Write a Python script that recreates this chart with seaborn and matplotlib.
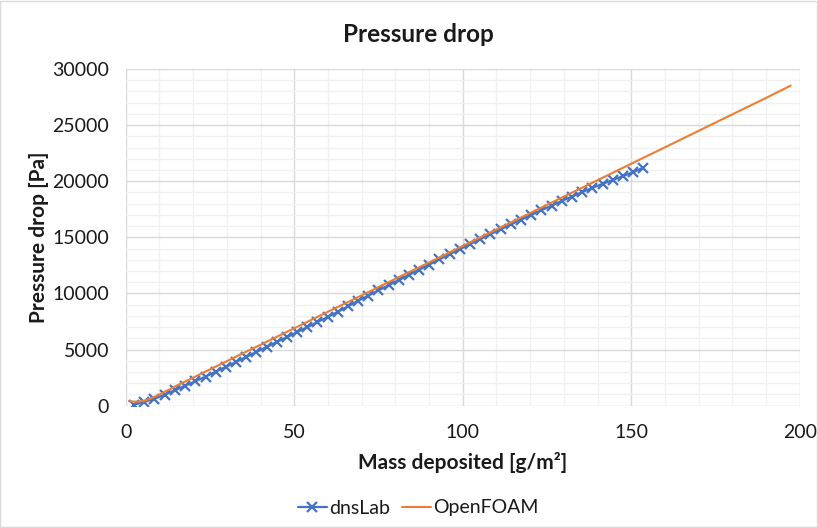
import matplotlib
matplotlib.use("Agg")
import matplotlib.pyplot as plt
from matplotlib.patches import Rectangle
from matplotlib.ticker import MultipleLocator
import seaborn as sns
import pandas as pd

# ---- data ----
dns_x = [2.5, 5.5, 8.5, 11.6, 14.6, 17.6, 20.6, 23.7, 26.7, 29.7,
         32.7, 35.8, 38.8, 41.8, 44.8, 47.8, 50.8, 53.9, 56.9, 59.9,
         62.9, 65.9, 68.9, 72.0, 75.0, 78.0, 81.0, 84.1, 87.1, 90.1,
         93.1, 96.2, 99.2, 102.2, 105.2, 108.2, 111.3, 114.3, 117.3, 120.3,
         123.3, 126.4, 129.4, 132.4, 135.4, 138.5, 141.5, 144.5, 147.5, 150.5,
         153.5]
dns_y = [100, 330, 620, 980, 1380, 1780, 2160, 2600, 3030, 3450,
         3890, 4350, 4790, 5230, 5670, 6100, 6550, 7000, 7450, 7900,
         8360, 8840, 9340, 9810, 10270, 10730, 11190, 11660, 12120, 12580,
         13040, 13510, 13960, 14400, 14840, 15280, 15730, 16160, 16570, 17000,
         17410, 17830, 18240, 18630, 19020, 19410, 19760, 20110, 20450, 20800,
         21200]

of_x = [1, 3, 5, 7, 10, 13, 16, 20, 30, 40, 50, 60, 70, 80, 90, 100,
        110, 120, 130, 140, 150, 160, 170, 180, 190, 197.3]
of_y = [390, 360, 400, 580, 1000, 1450, 1920, 2500, 3970, 5430, 6900, 8370,
        9830, 11300, 12760, 14230, 15700, 17160, 18630, 20090, 21560, 23020,
        24490, 25960, 27420, 28520]

series_names = ["dnsLab", "OpenFOAM"]
title = "Pressure drop"
xlabel = "Mass deposited [g/m\u00b2]"
ylabel = "Pressure drop [Pa]"

BLUE = "#4472C4"
ORANGE = "#ED7D31"
TXT = "#1a1a1a"

sns.set_theme(style="white")
plt.rcParams["font.family"] = ["Lato", "DejaVu Sans"]
plt.rcParams["text.color"] = TXT

fig = plt.figure(figsize=(8.18, 5.28), dpi=100)
ax = fig.add_axes([125.7 / 818, 1 - 405.7 / 528, (799.7 - 125.7) / 818, (405.7 - 69) / 528])

df_dns = pd.DataFrame({"x": dns_x, "y": dns_y})
df_of = pd.DataFrame({"x": of_x, "y": of_y})

sns.lineplot(data=df_dns, x="x", y="y", ax=ax, color=BLUE, lw=1.6,
             marker="x", markersize=6.5, markeredgewidth=1.6,
             markeredgecolor=BLUE, label=series_names[0], zorder=3)
sns.lineplot(data=df_of, x="x", y="y", ax=ax, color=ORANGE, lw=1.5,
             label=series_names[1], zorder=4)

ax.set_xlim(0, 200)
ax.set_ylim(0, 30000)
ax.xaxis.set_major_locator(MultipleLocator(50))
ax.xaxis.set_minor_locator(MultipleLocator(10))
ax.yaxis.set_major_locator(MultipleLocator(5000))
ax.yaxis.set_minor_locator(MultipleLocator(1000))
ax.grid(which="major", color="#d9d9d9", lw=1.0, zorder=0)
ax.grid(which="minor", color="#f0f0f0", lw=1.0, zorder=0)
ax.set_axisbelow(True)
for s in ax.spines.values():
    s.set_visible(False)
ax.tick_params(which="both", length=0, labelsize=14, colors=TXT)
ax.tick_params(axis="x", pad=13)
ax.tick_params(axis="y", pad=12)

ax.set_xlabel(xlabel, fontsize=15, fontweight="bold", labelpad=8, color=TXT)
ax.set_ylabel(ylabel, fontsize=15, fontweight="bold", labelpad=2, color=TXT)
fig.text(418 / 818, 1 - 35 / 528, title, ha="center", va="center",
         fontsize=17.5, fontweight="bold", color=TXT)

h, l = ax.get_legend_handles_labels()
ax.legend(h, l, loc="center", bbox_to_anchor=(418 / 818, 1 - 508 / 528),
          bbox_transform=fig.transFigure, ncol=2, frameon=False,
          fontsize=14, handlelength=1.5, columnspacing=0.6, handletextpad=0.1)

fig.patches.append(Rectangle((0.0005, 0.001), 0.998, 0.998, transform=fig.transFigure,
                             fill=False, edgecolor="#d9d9d9", lw=1.0))

fig.savefig("out.png", dpi=100)
